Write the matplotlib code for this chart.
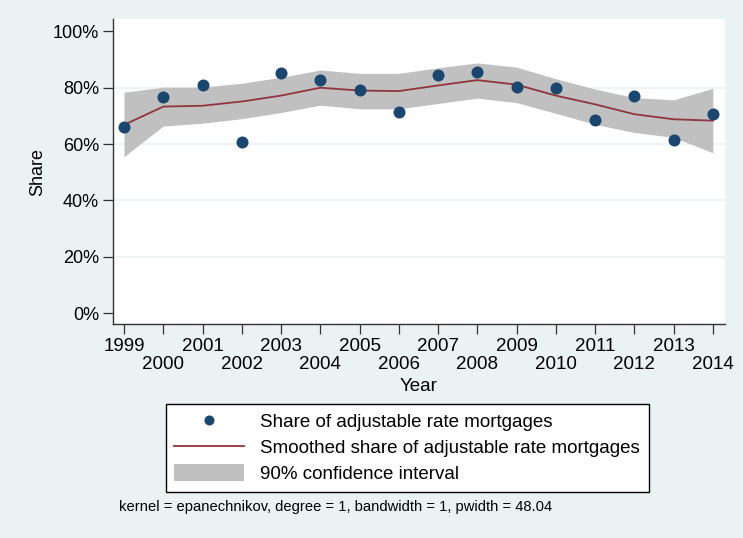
import numpy as np
import matplotlib.pyplot as plt
from matplotlib.lines import Line2D
from matplotlib.patches import Patch

plt.rcParams['font.family'] = ['Liberation Sans', 'DejaVu Sans']

########################## data #####################################
years = list(range(1999, 2015))
share = [0.662, 0.767, 0.808, 0.607, 0.851, 0.827, 0.792, 0.715,
         0.844, 0.856, 0.804, 0.800, 0.684, 0.771, 0.613, 0.706]
smooth = [0.668, 0.733, 0.736, 0.751, 0.772, 0.800, 0.790, 0.788,
          0.808, 0.827, 0.811, 0.772, 0.741, 0.706, 0.688, 0.683]
ci_hi = [0.784, 0.802, 0.802, 0.816, 0.837, 0.863, 0.851, 0.851,
         0.871, 0.888, 0.873, 0.832, 0.795, 0.765, 0.757, 0.798]
ci_lo = [0.555, 0.664, 0.674, 0.690, 0.712, 0.738, 0.725, 0.725,
         0.744, 0.763, 0.747, 0.709, 0.670, 0.641, 0.624, 0.569]
yticks = [0, 0.2, 0.4, 0.6, 0.8, 1.0]
ytick_labels = ["0%", "20%", "40%", "60%", "80%", "100%"]
note = "kernel = epanechnikov, degree = 1, bandwidth = 1, pwidth = 48.04"

# stata s2color palette
bg = "#EAF2F3"
navy = "#1A476F"
maroon = "#90353B"
gray = "#C0C0C0"

########################## figure #####################################
fig = plt.figure(figsize=(7.43, 5.38), dpi=100, facecolor=bg)
ax = fig.add_axes([113/743, 1 - 324/538, 612/743, 305/538])
ax.set_facecolor("white")

ax.fill_between(years, ci_lo, ci_hi, color=gray, lw=0, zorder=2)
ax.plot(years, smooth, color=maroon, lw=1.3, zorder=3)
ax.scatter(years, share, s=75, color=navy, zorder=4, lw=0)

for y in yticks[1:-1]:
    ax.axhline(y, color=bg, lw=1.2, zorder=1)

ax.set_xlim(1998.72, 2014.31)
ax.set_ylim(-0.039, 1.044)
ax.set_yticks(yticks)
ax.set_yticklabels(ytick_labels)
ax.set_xticks(years)
ax.set_xticklabels([str(y) if (y - years[0]) % 2 == 0 else "\n" + str(y) for y in years],
                   linespacing=1.12)

for s in ["top", "right"]:
    ax.spines[s].set_visible(False)
for s in ["left", "bottom"]:
    ax.spines[s].set_color("#333333")
    ax.spines[s].set_linewidth(1.0)
ax.tick_params(axis="both", length=7, width=0.9, color="#333333", pad=3)
ax.tick_params(axis="y", labelsize=13)
ax.tick_params(axis="x", labelsize=13.5)

ax.set_ylabel("Share", fontsize=13, labelpad=5)
ax.set_xlabel("Year", fontsize=13.5, labelpad=3)

handles = [
    Line2D([], [], marker="o", ls="none", color=navy, markersize=7.2, mec="none"),
    Line2D([], [], color=maroon, lw=1.3),
    Patch(facecolor=gray, edgecolor="none"),
]
labels = ["Share of adjustable rate mortgages",
          "Smoothed share of adjustable rate mortgages",
          "90% confidence interval"]
leg = fig.legend(handles, labels, loc="upper left",
                 bbox_to_anchor=(166/743, 1 - 404/538), fontsize=13.5,
                 frameon=True, fancybox=False, edgecolor="black",
                 framealpha=1, handlelength=3.73, handleheight=1.0,
                 handletextpad=0.85, borderpad=0.45, labelspacing=0.38,
                 borderaxespad=0)
leg.get_frame().set_linewidth(1.0)

fig.text(119/743, 1 - 507/538, note, fontsize=10.6, va="center", ha="left")

fig.savefig("out.png", dpi=100, facecolor=bg)
